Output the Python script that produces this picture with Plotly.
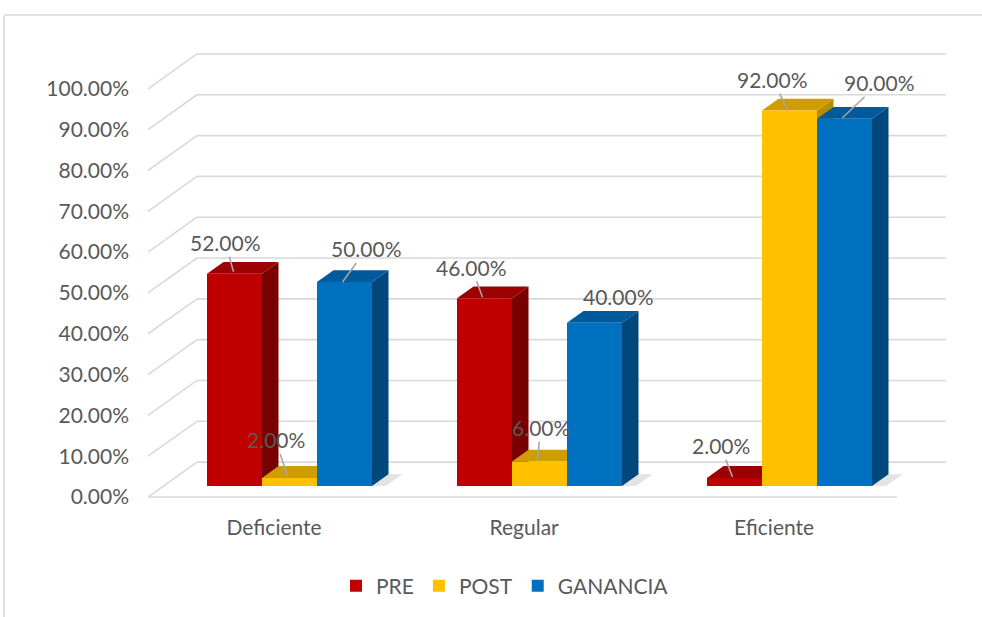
import plotly.graph_objects as go

# ---- data -------------------------------------------------------------
categories = ["Deficiente", "Regular", "Eficiente"]
series_names = ["PRE", "POST", "GANANCIA"]
pre = [52.0, 46.0, 2.0]
post = [2.0, 6.0, 92.0]
ganancia = [50.0, 40.0, 90.0]
y_ticks = [0, 10, 20, 30, 40, 50, 60, 70, 80, 90, 100]

series_values = [pre, post, ganancia]

# ---- styling ----------------------------------------------------------
front_colors = ["#C00000", "#FFC000", "#0070C0"]
side_colors = ["#780000", "#B98C00", "#00487C"]
top_colors = ["#9C0000", "#CF9D00", "#005A9B"]
grid_color = "#D9D9D9"
text_color = "#595959"
FONT = "Lato"
FONT_SIZE = 21

W, H = 982, 617
ML, MR, MT, MB = 140, 27, 30, 107
plot_w = W - ML - MR
plot_h = H - MT - MB

# screen scale of the bar plane (pixels per category, per percentage point)
PX_X = 250.0
PX_Y = 4.09
first_cat_px = 289.5          # centre of first category on the bar plane
baseline_px = 487.0           # y pixel of 0 % on the bar plane

x_range = [(ML - first_cat_px) / PX_X, (W - MR - first_cat_px) / PX_X]
y_range = [-(H - MB - baseline_px) / PX_Y, (baseline_px - MT) / PX_Y]


def dx(px):
    return px / PX_X


def dy(px):
    # screen pixels upward -> data units
    return px / PX_Y


# oblique depth of the chart box and of each bar (screen pixels)
DEPTH_X, DEPTH_Y = 49.0, 35.0
FRONT_SHIFT = 11.0 / DEPTH_Y          # bar plane sits this far behind the front
BAR_DEPTH = 0.337                     # bar depth as share of the box depth
wall_left_px = 148.0
wall_right_px = 946.0

front_x0 = (wall_left_px - first_cat_px) / PX_X
back_x0 = front_x0 + dx(DEPTH_X)
back_x1 = (wall_right_px - first_cat_px) / PX_X
front_x1 = back_x1 - dx(DEPTH_X)
front_dy = -dy(DEPTH_Y * FRONT_SHIFT)
back_dy = dy(DEPTH_Y * (1 - FRONT_SHIFT))

bar_gap = 0.34
n_series = len(series_names)
bar_w = (1 - bar_gap) / n_series
bdx = dx(DEPTH_X * BAR_DEPTH)
bdy = dy(DEPTH_Y * BAR_DEPTH)

shapes = []

# walls: side-wall diagonals, back-wall gridlines, floor front edge
for t in y_ticks:
    shapes.append(dict(type="line", xref="x", yref="y", layer="below",
                       x0=front_x0, y0=t + front_dy, x1=back_x0, y1=t + back_dy,
                       line=dict(color=grid_color, width=1.6)))
    shapes.append(dict(type="line", xref="x", yref="y", layer="below",
                       x0=back_x0, y0=t + back_dy, x1=back_x1, y1=t + back_dy,
                       line=dict(color=grid_color, width=1.6)))
shapes.append(dict(type="line", xref="x", yref="y", layer="below",
                   x0=front_x0, y0=front_dy, x1=front_x1, y1=front_dy,
                   line=dict(color=grid_color, width=1.6)))


def poly(points, color, opacity=1.0):
    path = "M " + " L ".join(f"{px:.5f},{py:.5f}" for px, py in points) + " Z"
    return dict(type="path", xref="x", yref="y", layer="below", path=path,
                fillcolor=color, opacity=opacity, line=dict(width=0))


# floor shadows to the right of each bar
for c in range(len(categories)):
    for k in range(n_series):
        left = c + (k - (n_series - 1) / 2) * bar_w - bar_w / 2
        right = left + bar_w
        s = dx(14)
        shapes.append(poly([(right, 0), (right + s, 0), (right + s + bdx, bdy),
                            (right + bdx, bdy)], "#7F7F7F", 0.22))

# side and top faces, painted left to right
for c in range(len(categories)):
    for k in range(n_series):
        v = series_values[k][c]
        left = c + (k - (n_series - 1) / 2) * bar_w - bar_w / 2
        right = left + bar_w
        shapes.append(poly([(right, 0), (right, v), (right + bdx, v + bdy),
                            (right + bdx, bdy)], side_colors[k]))
        shapes.append(poly([(left, v), (right, v), (right + bdx, v + bdy),
                            (left + bdx, v + bdy)], top_colors[k]))

# chart border (top and left edges)
def px_to_paper_x(px):
    return (px - ML) / plot_w


def px_to_paper_y(py):
    return (H - MB - py) / plot_h


shapes.append(dict(type="line", xref="paper", yref="paper",
                   x0=px_to_paper_x(4), y0=px_to_paper_y(15),
                   x1=px_to_paper_x(W + 2), y1=px_to_paper_y(15),
                   line=dict(color="#D9D9D9", width=1.5)))
shapes.append(dict(type="line", xref="paper", yref="paper",
                   x0=px_to_paper_x(4), y0=px_to_paper_y(15),
                   x1=px_to_paper_x(4), y1=px_to_paper_y(H + 2),
                   line=dict(color="#D9D9D9", width=1.5)))

fig = go.Figure()

# front faces of the columns
for k, name in enumerate(series_names):
    fig.add_trace(go.Bar(
        x=list(range(len(categories))),
        y=series_values[k],
        name=name,
        width=bar_w,
        offset=(k - (n_series - 1) / 2) * bar_w - bar_w / 2,
        marker=dict(color=front_colors[k], line=dict(width=0)),
        hovertemplate="%{y:.2f}%<extra>" + name + "</extra>",
    ))

# data labels with leader lines: (anchor shift px, label offset px, leader)
label_layout = {
    ("PRE", 0): (-1, 2, -8, -29, True),
    ("POST", 0): (-2, 2, -12, -36, True),
    ("GANANCIA", 0): (-2, 0, 24, -33, True),
    ("PRE", 1): (-2, 1, -11, -30, True),
    ("POST", 1): (-2, 1, 3, -33, True),
    ("GANANCIA", 1): (0, 0, 24, -26, False),
    ("PRE", 2): (-2, 1, -12, -31, True),
    ("POST", 2): (-2, 1, -15, -30, True),
    ("GANANCIA", 2): (-2, 1, 37, -35, True),
}

annotations = []
for k, name in enumerate(series_names):
    for c in range(len(categories)):
        v = series_values[k][c]
        centre = c + (k - (n_series - 1) / 2) * bar_w
        sx, sy, ax, ay, leader = label_layout[(name, c)]
        annotations.append(dict(
            x=centre + dx(sx), y=v + dy(sy), xref="x", yref="y",
            text=f"{v:.2f}%", showarrow=True, arrowhead=0,
            arrowwidth=1.6, arrowcolor="#A6A6A6" if leader else "rgba(0,0,0,0)",
            ax=ax, ay=ay, axref="pixel", ayref="pixel",
            font=dict(family=FONT, size=FONT_SIZE, color=text_color),
        ))

fig.update_layout(
    width=W, height=H,
    margin=dict(l=ML, r=MR, t=MT, b=MB),
    paper_bgcolor="white", plot_bgcolor="white",
    barmode="overlay",
    font=dict(family=FONT, size=FONT_SIZE, color=text_color),
    shapes=shapes,
    annotations=annotations,
    showlegend=True,
    legend=dict(orientation="h", x=px_to_paper_x(505), xanchor="center",
                y=px_to_paper_y(586), yanchor="middle",
                font=dict(family=FONT, size=FONT_SIZE, color=text_color),
                itemwidth=30, tracegroupgap=0),
    xaxis=dict(range=x_range, showgrid=False, zeroline=False, showline=False,
               tickmode="array",
               tickvals=[i - dx(DEPTH_X * FRONT_SHIFT) for i in range(len(categories))],
               ticktext=categories, ticks="", ticklabelstandoff=4,
               tickfont=dict(family=FONT, size=FONT_SIZE, color=text_color)),
    yaxis=dict(range=y_range, showgrid=False, zeroline=False, showline=False,
               tickmode="array",
               tickvals=[t + front_dy for t in y_ticks],
               ticktext=[f"{t:.2f}%" for t in y_ticks], ticks="",
               ticklabelstandoff=10,
               tickfont=dict(family=FONT, size=FONT_SIZE, color=text_color)),
)

fig.write_html("out.html")
